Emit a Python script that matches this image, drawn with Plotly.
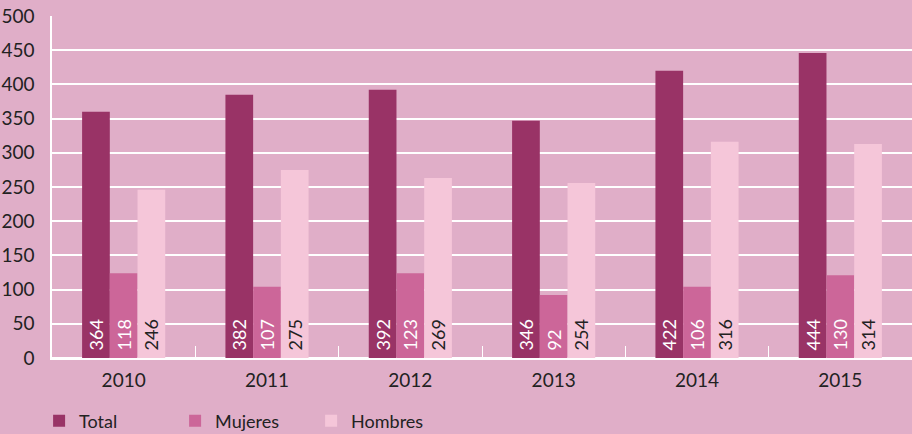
"""
Total / Mujeres / Hombres por año
"""
import plotly.graph_objects as go

anios = ['2010', '2011', '2012', '2013', '2014', '2015']

# alturas de barra
total = [360, 385, 392, 347, 420, 446]
mujeres = [124, 104, 124, 92, 104, 121]
hombres = [246, 275, 263, 256, 316, 313]

# etiquetas impresas en las barras
total_txt = ['364', '382', '392', '346', '422', '444']
mujeres_txt = ['118', '107', '123', '92', '106', '130']
hombres_txt = ['246', '275', '269', '254', '316', '314']

FONDO = '#E0AEC8'
FUENTE = 'Lato, Noto Sans, sans-serif'

series = [
    ('Total', total, total_txt, '#993366', 'white'),
    ('Mujeres', mujeres, mujeres_txt, '#CC6699', 'white'),
    ('Hombres', hombres, hombres_txt, '#F5C6D9', '#222222'),
]

fig = go.Figure()
for nombre, valores, textos, color, color_txt in series:
    fig.add_trace(go.Bar(
        x=anios, y=valores, name=nombre, text=textos,
        texttemplate='\u00a0%{text}',
        marker_color=color, marker_line_width=0,
        textposition='inside', insidetextanchor='start', textangle=-90,
        textfont=dict(color=color_txt, size=18, family=FUENTE),
        cliponaxis=False,
    ))

fig.update_layout(
    width=912, height=434,
    paper_bgcolor=FONDO, plot_bgcolor=FONDO,
    barmode='group', bargap=0.42, bargroupgap=0,
    margin=dict(l=52, r=0, t=16, b=76, autoexpand=False),
    font=dict(family=FUENTE, size=19, color='#222222'),
    uniformtext=dict(mode='show', minsize=18),
    legend=dict(
        orientation='h', x=-0.015, y=-0.13, xanchor='left', yanchor='top',
        font=dict(size=18), entrywidth=91, entrywidthmode='pixels',
        itemwidth=30, traceorder='normal',
    ),
)
fig.update_yaxes(
    range=[0, 500], dtick=50, showgrid=True, gridcolor='white', gridwidth=1.5,
    showline=True, linecolor='white', linewidth=1.5, zeroline=True,
    zerolinecolor='white', zerolinewidth=1.5, ticks='', ticklabelstandoff=12,
)
fig.update_xaxes(
    showline=True, linecolor='white', linewidth=1.5,
    ticks='inside', tickcolor='white', ticklen=12, tickson='boundaries',
    ticklabelstandoff=4,
)

fig.write_html("out.html", config={'displayModeBar': False},
               post_script="document.body.style.margin='0';")
